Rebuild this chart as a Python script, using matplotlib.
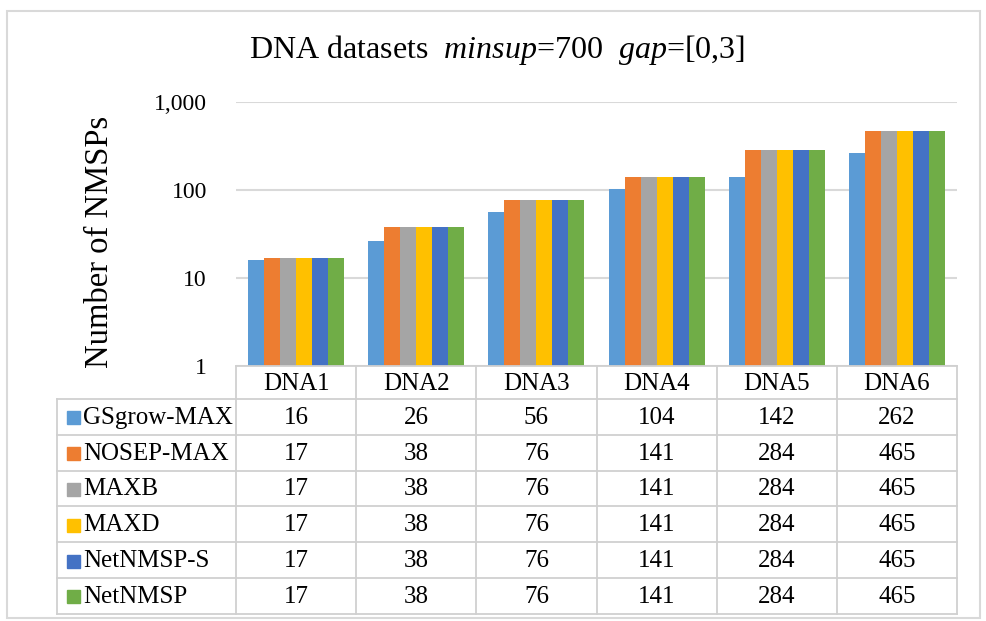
import matplotlib
matplotlib.use("Agg")
import matplotlib.pyplot as plt
from matplotlib.patches import Rectangle
from matplotlib.ticker import FixedLocator, FixedFormatter
import numpy as np

plt.rcParams['font.family'] = ['Liberation Serif', 'DejaVu Serif']
plt.rcParams['mathtext.fontset'] = 'custom'
plt.rcParams['mathtext.rm'] = 'Liberation Serif'
plt.rcParams['mathtext.it'] = 'Liberation Serif:italic'

# ---- data ----
categories = ["DNA1", "DNA2", "DNA3", "DNA4", "DNA5", "DNA6"]
series_names = ["GSgrow-MAX", "NOSEP-MAX", "MAXB", "MAXD", "NetNMSP-S", "NetNMSP"]
gsgrow_max = [16, 26, 56, 104, 142, 262]
nosep_max = [17, 38, 76, 141, 284, 465]
maxb = [17, 38, 76, 141, 284, 465]
maxd = [17, 38, 76, 141, 284, 465]
netnmsp_s = [17, 38, 76, 141, 284, 465]
netnmsp = [17, 38, 76, 141, 284, 465]
series_values = [gsgrow_max, nosep_max, maxb, maxd, netnmsp_s, netnmsp]
colors = ["#5B9BD5", "#ED7D31", "#A5A5A5", "#FFC000", "#4472C4", "#70AD47"]
y_ticks = [1, 10, 100, 1000]
y_tick_labels = ["1", "10", "100", "1,000"]
title = r"DNA datasets  $\mathit{minsup}$=700  $\mathit{gap}$=[0,3]"
ylabel = "Number of NMSPs"

W, H = 986, 621
fig = plt.figure(figsize=(W / 100, H / 100), dpi=100)

def fx(px):
    return px / W

def fy(py):
    return 1 - py / H

grid_c = "#D9D9D9"

# outer border
fig.patches.append(Rectangle((fx(7), fy(618)), fx(980) - fx(7), fy(11) - fy(618),
                             transform=fig.transFigure, fill=False,
                             edgecolor=grid_c, linewidth=1.5))

# plot area (pixels)
L, R, T, B = 236, 957, 102, 366
ax = fig.add_axes([fx(L), fy(B), fx(R) - fx(L), fy(T) - fy(B)])
ax.set_yscale('log')
ax.set_ylim(1, 1000)
n = len(categories)
ax.set_xlim(-0.5, n - 0.5)
x = np.arange(n)
ns = len(series_values)
bw = 0.8 / ns
for i, (vals, c) in enumerate(zip(series_values, colors)):
    ax.bar(x - 0.4 + bw * (i + 0.5), vals, width=bw, color=c, zorder=3)

ax.yaxis.set_major_locator(FixedLocator(y_ticks))
ax.yaxis.set_major_formatter(FixedFormatter(y_tick_labels))
ax.yaxis.set_minor_locator(FixedLocator([]))
ax.tick_params(axis='y', length=0, labelsize=17, pad=21)
ax.set_xticks([])
for s in ax.spines.values():
    s.set_visible(False)
ax.grid(axis='y', color=grid_c, linewidth=1.5, zorder=0)
fig.text(fx(100), fy(242), ylabel, rotation=90, fontsize=23.5, ha='center', va='center')

fig.text(fx(497), fy(50), title, ha='center', va='center', fontsize=23)

# table
colw = (R - L) / n
TL = 57
head_h = 33
row_h = 35.8
tax = fig.add_axes([fx(TL), fy(B + head_h + row_h * ns), fx(R) - fx(TL),
                    fy(B) - fy(B + head_h + row_h * ns)])
lab_w = (L - TL) / colw
tax.set_xlim(-0.5 - lab_w, n - 0.5)
total_h = head_h + row_h * ns
tax.set_ylim(total_h, 0)
tax.axis('off')
lc = "#D0D0D0"
lw = 1.3
fs = 18
# header row
tax.plot([-0.5, n - 0.5], [0, 0], color=lc, lw=lw, clip_on=False)
for k in range(n + 1):
    tax.plot([k - 0.5, k - 0.5], [0, total_h], color=lc, lw=lw, clip_on=False)
for j, cat in enumerate(categories):
    tax.text(j, head_h / 2 + 1, cat, ha='center', va='center', fontsize=fs)
# rows
for r in range(ns + 1):
    y0 = head_h + r * row_h
    tax.plot([-0.5 - lab_w, n - 0.5], [y0, y0], color=lc, lw=lw, clip_on=False)
tax.plot([-0.5 - lab_w, -0.5 - lab_w], [head_h, total_h], color=lc, lw=lw, clip_on=False)
sq = 13 / colw
for r, (name, vals, c) in enumerate(zip(series_names, series_values, colors)):
    yc = head_h + (r + 0.5) * row_h
    x0 = -0.5 - lab_w + 10 / colw
    tax.add_patch(Rectangle((x0, yc - 6.5 + 1), sq, 13, color=c, clip_on=False))
    tax.text(x0 + sq + 3 / colw, yc + 1, name, ha='left', va='center', fontsize=fs)
    for j, v in enumerate(vals):
        tax.text(j, yc + 1, str(v), ha='center', va='center', fontsize=fs)

fig.savefig("out.png", dpi=100)
